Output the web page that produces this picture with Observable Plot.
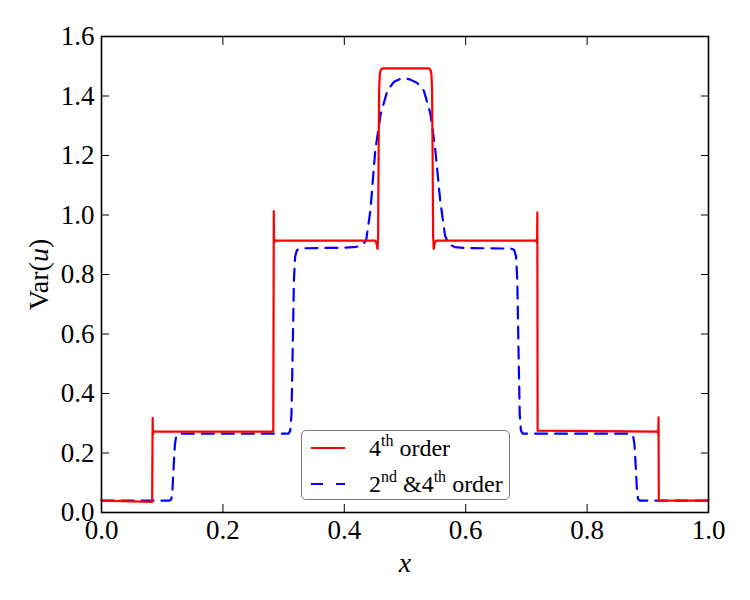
<!DOCTYPE html>
<html>
<head>
<meta charset="utf-8">
<script src="https://cdn.jsdelivr.net/npm/d3@7"></script>
<script src="https://cdn.jsdelivr.net/npm/@observablehq/plot@0.6"></script>
<style>
  html, body { margin: 0; padding: 0; background: #fff; }
  #chart { position: relative; width: 750px; height: 600px; font-family: "Liberation Serif", "DejaVu Serif", serif; }
  #chart svg text { font-family: "Liberation Serif", "DejaVu Serif", serif; }
  #legend {
    position: absolute; left: 301px; top: 430px; width: 207px; height: 68px;
    border: 1.3px solid #7a7a7a; border-radius: 5px; background: #fff;
    font-family: "Liberation Serif", "DejaVu Serif", serif;
    font-size: 24px; color: #000;
  }
  #legend .row { position: absolute; left: 0; height: 30px; display: flex; align-items: center; white-space: nowrap; }
  #legend svg { margin-left: 9px; margin-right: 24px; }
  #legend sup { font-size: 16px; vertical-align: 0; position: relative; top: -10px; }
</style>
</head>
<body>
<div id="chart"></div>
<script>
// Variance of u across the domain: 4th-order scheme vs. combined 2nd & 4th-order scheme
const xFourth = [
  0, 0.0835, 0.0839, 0.0843, 0.0847, 0.0853, 0.0862, 0.0875,
  0.2830, 0.2834, 0.2838, 0.2843, 0.2849, 0.2857, 0.2872,
  0.4510, 0.4530, 0.4547, 0.4557, 0.4565, 0.4574, 0.4585, 0.4600, 0.4625,
  0.5395, 0.5420, 0.5435, 0.5446, 0.5455, 0.5463, 0.5473, 0.5490, 0.5510,
  0.7148, 0.7163, 0.7171, 0.7176, 0.7180, 0.7185,
  0.9145, 0.9158, 0.9167, 0.9173, 0.9177, 0.9181, 1
];
const yFourth = [
  0.040, 0.036, 0.200, 0.318, 0.262, 0.276, 0.270, 0.272,
  0.272, 0.600, 1.013, 0.905, 0.918, 0.912, 0.914,
  0.914, 0.905, 0.886, 0.930, 1.200, 1.420, 1.475, 1.487, 1.493,
  1.493, 1.487, 1.475, 1.420, 1.200, 0.930, 0.886, 0.905, 0.914,
  0.914, 0.912, 0.918, 0.905, 1.009, 0.275,
  0.272, 0.270, 0.276, 0.262, 0.320, 0.040, 0.040
];

const xBoth = [
  0, 0.112, 0.115, 0.117, 0.119, 0.121, 0.123, 0.126, 0.130,
  0.308, 0.311, 0.313, 0.315, 0.317, 0.319, 0.322, 0.327,
  0.360, 0.400, 0.420, 0.430, 0.436, 0.443, 0.451, 0.460, 0.471, 0.482, 0.493,
  0.501, 0.509, 0.520, 0.531, 0.542, 0.550, 0.558, 0.566, 0.572, 0.582,
  0.600, 0.640, 0.675, 0.680, 0.683, 0.685, 0.687, 0.689, 0.691, 0.694,
  0.698, 0.872, 0.876, 0.878, 0.880, 0.882, 0.884, 0.887, 0.890, 1
];
const yBoth = [
  0.040, 0.040, 0.045, 0.080, 0.160, 0.230, 0.255, 0.263, 0.265,
  0.265, 0.275, 0.330, 0.550, 0.780, 0.860, 0.882, 0.888,
  0.889, 0.890, 0.893, 0.900, 0.915, 1.015, 1.217, 1.340, 1.418, 1.448, 1.458,
  1.459, 1.455, 1.444, 1.418, 1.340, 1.217, 1.049, 0.930, 0.903, 0.892,
  0.889, 0.888, 0.887, 0.882, 0.860, 0.780, 0.550, 0.330, 0.275, 0.265,
  0.265, 0.265, 0.255, 0.230, 0.160, 0.080, 0.045, 0.040, 0.040, 0.040
];

const xTicks = [0, 0.2, 0.4, 0.6, 0.8, 1.0];
const yTicks = [0, 0.2, 0.4, 0.6, 0.8, 1.0, 1.2, 1.4, 1.6];

const fourth = xFourth.map((x, i) => ({x, y: yFourth[i]}));
const both = xBoth.map((x, i) => ({x, y: yBoth[i]}));

const fmt = d => d.toFixed(1);

const chart = Plot.plot({
  width: 750,
  height: 600,
  marginLeft: 101,
  marginRight: 42,
  marginTop: 36,
  marginBottom: 88,
  x: {domain: [0, 1]},
  y: {domain: [0, 1.6]},
  style: {fontFamily: "'Liberation Serif', 'DejaVu Serif', serif", fontSize: "27px", background: "#fff", color: "#000"},
  marks: [
    Plot.line(both, {x: "x", y: "y", stroke: "#0000ff", strokeWidth: 2.2, strokeDasharray: "12,8"}),
    Plot.line(fourth, {x: "x", y: "y", stroke: "#ff0000", strokeWidth: 2.2}),
    Plot.axisX(xTicks, {anchor: "bottom", tickSize: -8, tickPadding: 15, tickFormat: fmt, label: null, stroke: "#000"}),
    Plot.axisX(xTicks, {anchor: "top", tickSize: -8, tickFormat: () => "", label: null, stroke: "#000"}),
    Plot.axisY(yTicks, {anchor: "left", tickSize: -8, tickPadding: 15, tickFormat: fmt, label: null, stroke: "#000"}),
    Plot.axisY(yTicks, {anchor: "right", tickSize: -8, tickFormat: () => "", label: null, stroke: "#000"}),
    Plot.frame({stroke: "#000", strokeWidth: 1.6}),
    Plot.text(["x"], {frameAnchor: "bottom", dy: 59, fontStyle: "italic", fontSize: 28}),
    Plot.text(["Var(u)"], {frameAnchor: "left", textAnchor: "middle", dx: -62, rotate: -90, fontSize: 28})
  ]
});

// Set the y label with an italic variable name
d3.select(chart).selectAll("text").filter(function() { return this.textContent === "Var(u)"; })
  .each(function() {
    const t = d3.select(this);
    t.text(null);
    t.append("tspan").text("Var(");
    t.append("tspan").attr("font-style", "italic").text("u");
    t.append("tspan").text(")");
  });

const host = document.getElementById("chart");
host.appendChild(chart);

const legend = document.createElement("div");
legend.id = "legend";
legend.innerHTML = `
  <div class="row" style="top:2px">
    <svg width="34" height="10"><line x1="0" y1="5" x2="34" y2="5" stroke="#ff0000" stroke-width="2.2"/></svg>
    <span>4<sup>th</sup> order</span>
  </div>
  <div class="row" style="top:38px">
    <svg width="34" height="10"><line x1="0" y1="5" x2="34" y2="5" stroke="#0000ff" stroke-width="2.2" stroke-dasharray="12,13"/></svg>
    <span>2<sup>nd</sup> &amp;4<sup>th</sup> order</span>
  </div>`;
host.appendChild(legend);
</script>
</body>
</html>
